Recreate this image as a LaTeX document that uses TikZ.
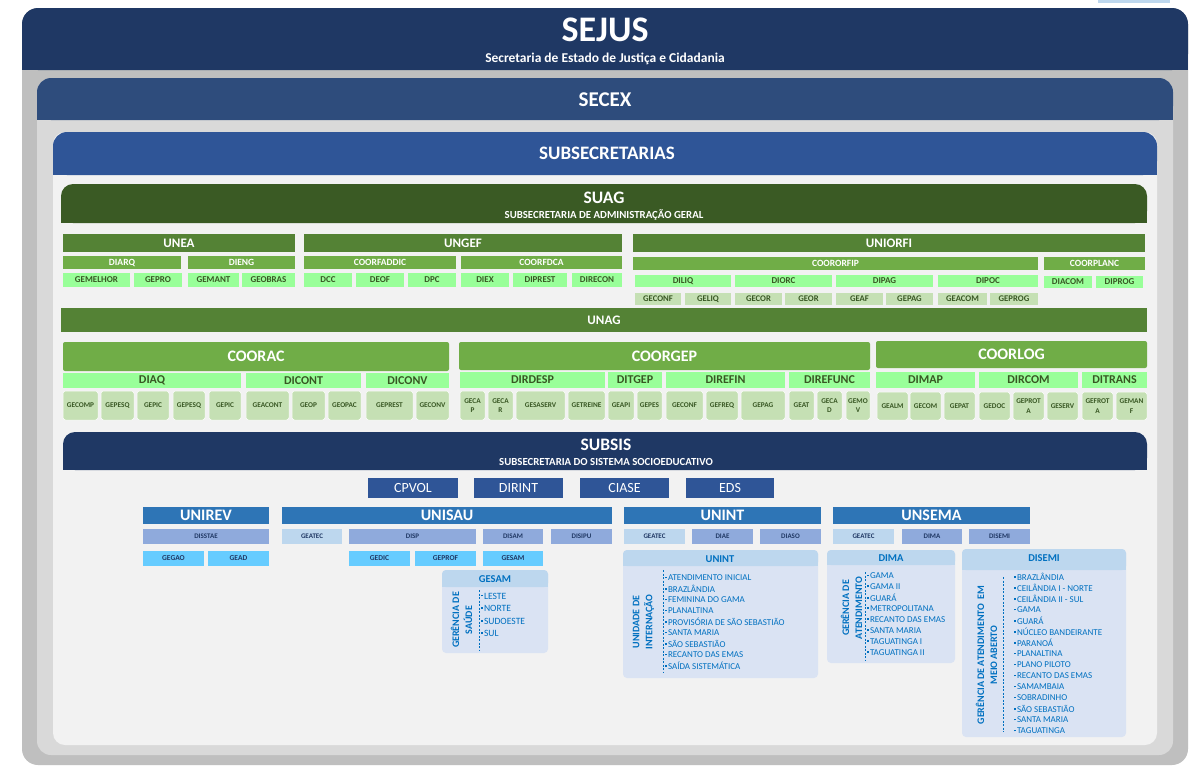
\documentclass[tikz,border=0pt]{standalone}
\usepackage{fontspec}
\setmainfont{Carlito}
\definecolor{colNavy}{HTML}{1F3864}
\definecolor{colSecex}{HTML}{2E4C7C}
\definecolor{colSub}{HTML}{2F5597}
\definecolor{colFA}{HTML}{BFBFBF}
\definecolor{colFB}{HTML}{D9D9D9}
\definecolor{colFC}{HTML}{F2F2F2}
\definecolor{colSuag}{HTML}{3A5A24}
\definecolor{colGA}{HTML}{548235}
\definecolor{colGB}{HTML}{70AD47}
\definecolor{colGC}{HTML}{99FF99}
\definecolor{colGD}{HTML}{C5E0B4}
\definecolor{colGT}{HTML}{385723}
\definecolor{colBA}{HTML}{2F5597}
\definecolor{colBB}{HTML}{2E75B6}
\definecolor{colBC}{HTML}{8FAADC}
\definecolor{colBD}{HTML}{BDD7EE}
\definecolor{colBE}{HTML}{66CCFF}
\definecolor{colBT}{HTML}{203864}
\definecolor{colLH}{HTML}{BDD7EE}
\definecolor{colLB}{HTML}{DAE3F3}
\definecolor{colLT}{HTML}{0070C0}
\newcommand\fz[1]{\fontsize{#1}{#1}\selectfont}
\newcommand\bx[7]{\node[#6, minimum width={#4pt-#2pt}, minimum height={#5pt-#3pt}] (#1) at ({(#2+#4)/2},{(#3+#5)/2}) {#7};}
\newcommand\tophdr[6]{\fill[#5, rounded corners=#6pt] (#1,#2) rectangle (#3,#4); \fill[#5] (#1,{#2+#6+1}) rectangle (#3,#4);}
\newcommand\sqb{\raisebox{0.28em}{\rule{1.8pt}{1.8pt}}\hspace{1pt}}
\tikzset{
 base/.style={inner sep=0pt, outer sep=0pt, align=center},
 stGA/.style={base, fill=colGA, text=white, font=\bfseries\fz{13}},
 stGB/.style={base, fill=colGB, text=white, font=\bfseries\fz{9.5}},
 stGC/.style={base, fill=colGC, text=colGT, font=\bfseries\fz{9}},
 stGD/.style={base, fill=colGD, text=colGT, font=\bfseries\fz{8.7}},
 stCA/.style={base, fill=colGB, text=white, font=\bfseries\fz{16}, rounded corners=2pt},
 stCB/.style={base, fill=colGC, text=colGT, font=\bfseries\fz{12}},
 stCC/.style={base, fill=colGD, text=colGT, font=\bfseries\fontsize{7.3}{9.5}\selectfont, rounded corners=2.5pt, draw=white, line width=0.5pt},
 stSA/.style={base, fill=colBA, text=white, font=\fz{14}},
 stSB/.style={base, fill=colBB, text=white, font=\bfseries\fz{16}},
 stSC/.style={base, fill=colBC, text=colBT, font=\bfseries\fz{7}},
 stSD/.style={base, fill=colBD, text=colBT, font=\bfseries\fz{7}},
 stSE/.style={base, fill=colBE, text=colBT, font=\bfseries\fz{7.5}},
 stLBox/.style={base, fill=colLB, rounded corners=4pt},
 hdr/.style={text=white, inner sep=0pt},
 lhead/.style={text=colLT, font=\bfseries\fz{10.5}, inner sep=0pt},
 litem/.style={text=colLT, font=\fz{9}, inner sep=0pt, anchor=west},
 lrot/.style={text=colLT, font=\bfseries\fontsize{10}{13}\selectfont, rotate=90, align=center, inner sep=0pt},
 ldash/.style={draw=colLT, dash pattern=on 2pt off 1.5pt, line width=0.6pt},
}
\begin{document}
\begin{tikzpicture}[x=1pt,y=-1pt]
\useasboundingbox (0,0) rectangle (1199,777);
\fill[white] (0,0) rectangle (1199,777);
\fill[colBD] (1098,0) rectangle (1170,3);
% frames
\fill[colFA, rounded corners=16pt] (22,8) rectangle (1188,765);
\tophdr{22}{8}{1188}{70}{colNavy}{16}
\fill[colFB, rounded corners=14pt] (37,78) rectangle (1173,755);
\tophdr{37}{78}{1173}{120}{colSecex}{14}
\fill[colFC, rounded corners=12pt] (53,132) rectangle (1157,745);
\tophdr{53}{132}{1157}{175}{colSub}{14}
\tophdr{61}{184}{1147}{223}{colSuag}{12}
\tophdr{63}{432}{1147}{470}{colNavy}{12}
% titles
\node[hdr, font=\bfseries\fz{36}] (sejus) at (605,30) {SEJUS};
\node[hdr, font=\bfseries\fz{13.5}] (sejussub) at (605,59) {Secretaria de Estado de Justiça e Cidadania};
\node[hdr, font=\bfseries\fz{21}] (secex) at (605,100) {SECEX};
\node[hdr, font=\bfseries\fz{19}] (subsec) at (607,153) {SUBSECRETARIAS};
\node[hdr, font=\bfseries\fz{17.5}] (suag) at (604,198) {SUAG};
\node[hdr, font=\bfseries\fz{10.8}] (suagsub) at (604,215) {SUBSECRETARIA DE ADMINISTRAÇÃO GERAL};
\node[hdr, font=\bfseries\fz{17.5}] (subsis) at (606,445) {SUBSIS};
\node[hdr, font=\bfseries\fz{10.8}] (subsissub) at (606,462) {SUBSECRETARIA DO SISTEMA SOCIOEDUCATIVO};
% SUAG rows
\bx{unea}{63}{234}{295}{252}{stGA}{UNEA}
\bx{ungef}{304}{234}{622}{252}{stGA}{UNGEF}
\bx{uniorfi}{633}{234}{1145}{252}{stGA}{UNIORFI}
\bx{diarq}{63}{256}{181}{269}{stGB}{DIARQ}
\bx{dieng}{188}{256}{295}{269}{stGB}{DIENG}
\bx{coorfaddic}{304}{256}{456}{269}{stGB}{COORFADDIC}
\bx{coorfdca}{461}{256}{622}{269}{stGB}{COORFDCA}
\bx{coororfip}{633}{257}{1038}{270}{stGB}{COORORFIP}
\bx{coorplanc}{1044}{257}{1145}{270}{stGB}{COORPLANC}
\bx{gemelhor}{63}{273}{130}{287}{stGC}{GEMELHOR}
\bx{gepro}{134}{273}{182}{287}{stGC}{GEPRO}
\bx{gemant}{188}{273}{239}{287}{stGC}{GEMANT}
\bx{geobras}{242}{273}{295}{287}{stGC}{GEOBRAS}
\bx{dcc}{304}{273}{352}{287}{stGC}{DCC}
\bx{deof}{356}{273}{404}{287}{stGC}{DEOF}
\bx{dpc}{408}{273}{456}{287}{stGC}{DPC}
\bx{diex}{461}{273}{509}{287}{stGC}{DIEX}
\bx{diprest}{513}{273}{567}{287}{stGC}{DIPREST}
\bx{direcon}{572}{273}{622}{287}{stGC}{DIRECON}
\bx{diliq}{635}{275}{731}{287}{stGC}{DILIQ}
\bx{diorc}{735}{275}{832}{287}{stGC}{DIORC}
\bx{dipag}{836}{275}{933}{287}{stGC}{DIPAG}
\bx{dipoc}{938}{275}{1038}{287}{stGC}{DIPOC}
\bx{diacom}{1044}{276}{1092}{288}{stGC}{DIACOM}
\bx{diprog}{1096}{276}{1143}{288}{stGC}{DIPROG}
\bx{geconfa}{635}{293}{681}{305}{stGD}{GECONF}
\bx{geliq}{685}{293}{731}{305}{stGD}{GELIQ}
\bx{gecor}{735}{293}{782}{305}{stGD}{GECOR}
\bx{geor}{785}{293}{832}{305}{stGD}{GEOR}
\bx{geaf}{836}{293}{883}{305}{stGD}{GEAF}
\bx{gepaga}{886}{293}{933}{305}{stGD}{GEPAG}
\bx{geacom}{938}{293}{987}{305}{stGD}{GEACOM}
\bx{geprog}{990}{293}{1038}{305}{stGD}{GEPROG}
\bx{unag}{61}{308}{1147}{332}{stGA}{UNAG}
% COORAC
\bx{coorac}{63}{342}{449}{371}{stCA}{COORAC}
\bx{diaq}{63}{373}{241}{388}{stCB}{DIAQ}
\bx{dicont}{246}{373}{361}{388}{stCB}{DICONT}
\bx{diconv}{366}{373}{449}{388}{stCB}{DICONV}
\bx{gecomp}{63}{391}{98}{420}{stCC}{GECOMP}
\bx{gepesqa}{101}{391}{134}{420}{stCC}{GEPESQ}
\bx{gepica}{137}{391}{169}{420}{stCC}{GEPIC}
\bx{gepesqb}{173}{391}{205}{420}{stCC}{GEPESQ}
\bx{gepicb}{209}{391}{241}{420}{stCC}{GEPIC}
\bx{geacont}{246}{391}{289}{420}{stCC}{GEACONT}
\bx{geop}{292}{391}{325}{420}{stCC}{GEOP}
\bx{geopac}{328}{391}{361}{420}{stCC}{GEOPAC}
\bx{geprest}{366}{391}{413}{420}{stCC}{GEPREST}
\bx{geconv}{416}{391}{449}{420}{stCC}{GECONV}
% COORGEP
\bx{coorgep}{459}{342}{870}{370}{stCA}{COORGEP}
\bx{dirdesp}{460}{372}{605}{388}{stCB}{DIRDESP}
\bx{ditgep}{608}{372}{662}{388}{stCB}{DITGEP}
\bx{direfin}{666}{372}{785}{388}{stCB}{DIREFIN}
\bx{direfunc}{789}{372}{870}{388}{stCB}{DIREFUNC}
\bx{gecap}{460}{391}{485}{420}{stCC}{GECA\\P}
\bx{gecar}{488}{391}{513}{420}{stCC}{GECA\\R}
\bx{gesaserv}{516}{391}{565}{420}{stCC}{GESASERV}
\bx{getreine}{568}{391}{605}{420}{stCC}{GETREINE}
\bx{geapi}{608}{391}{634}{420}{stCC}{GEAPI}
\bx{gepes}{637}{391}{662}{420}{stCC}{GEPES}
\bx{geconfb}{666}{391}{703}{420}{stCC}{GECONF}
\bx{gefreq}{706}{391}{738}{420}{stCC}{GEFREQ}
\bx{gepagb}{741}{391}{785}{420}{stCC}{GEPAG}
\bx{geat}{789}{391}{814}{420}{stCC}{GEAT}
\bx{gecad}{817}{391}{842}{420}{stCC}{GECA\\D}
\bx{gemov}{846}{391}{870}{420}{stCC}{GEMO\\V}
% COORLOG
\bx{coorlog}{876}{341}{1147}{368}{stCA}{COORLOG}
\bx{dimap}{876}{372}{975}{388}{stCB}{DIMAP}
\bx{dircom}{979}{372}{1078}{388}{stCB}{DIRCOM}
\bx{ditrans}{1082}{372}{1147}{388}{stCB}{DITRANS}
\bx{gealm}{877}{392}{908}{420}{stCC}{GEALM}
\bx{gecom}{910}{392}{941}{420}{stCC}{GECOM}
\bx{gepat}{944}{392}{975}{420}{stCC}{GEPAT}
\bx{gedoc}{979}{392}{1010}{420}{stCC}{GEDOC}
\bx{geprota}{1013}{392}{1044}{420}{stCC}{GEPROT\\A}
\bx{geserv}{1047}{392}{1078}{420}{stCC}{GESERV}
\bx{gefrota}{1082}{392}{1113}{420}{stCC}{GEFROT\\A}
\bx{gemanf}{1116}{392}{1147}{420}{stCC}{GEMAN\\F}
% SUBSIS
\bx{cpvol}{368}{478}{458}{498}{stSA}{CPVOL}
\bx{dirint}{474}{478}{563}{498}{stSA}{DIRINT}
\bx{ciase}{580}{478}{669}{498}{stSA}{CIASE}
\bx{eds}{686}{478}{774}{498}{stSA}{EDS}
\bx{unirev}{143}{507}{269}{524}{stSB}{UNIREV}
\bx{unisau}{282}{507}{612}{524}{stSB}{UNISAU}
\bx{unint}{624}{507}{821}{524}{stSB}{UNINT}
\bx{unsema}{833}{507}{1030}{524}{stSB}{UNSEMA}
\bx{disstae}{143}{529}{269}{544}{stSC}{DISSTAE}
\bx{geateca}{282}{529}{342}{544}{stSD}{GEATEC}
\bx{disp}{349}{529}{476}{544}{stSC}{DISP}
\bx{disam}{483}{529}{543}{544}{stSC}{DISAM}
\bx{disipu}{551}{529}{612}{544}{stSC}{DISIPU}
\bx{geatecb}{624}{529}{685}{544}{stSD}{GEATEC}
\bx{diae}{692}{529}{753}{544}{stSC}{DIAE}
\bx{diaso}{760}{529}{821}{544}{stSC}{DIASO}
\bx{geatecc}{833}{529}{894}{544}{stSD}{GEATEC}
\bx{dima}{902}{529}{962}{544}{stSC}{DIMA}
\bx{disemi}{969}{529}{1030}{544}{stSC}{DISEMI}
\bx{gegao}{143}{551}{204}{566}{stSE}{GEGAO}
\bx{gead}{208}{551}{269}{566}{stSE}{GEAD}
\bx{gedic}{349}{551}{410}{566}{stSE}{GEDIC}
\bx{geprof}{415}{551}{476}{566}{stSE}{GEPROF}
\bx{gesam}{483}{551}{543}{566}{stSE}{GESAM}
% list GESAM
\bx{lgesam}{442}{570}{548}{653}{stLBox}{}
\tophdr{442}{570}{548}{587}{colLH}{4}
\node[lhead] (lgesamh) at (495,579) {GESAM};
\node[lrot] (lgesamr) at (461.5,620) {GERÊNCIA DE\\SAÚDE};
\draw[ldash] (479,590) -- (479,650);
\foreach \t [count=\i from 0] in {LESTE,NORTE,SUDOESTE,SUL}
  \node[litem, font=\fz{9.6}] (lgesam\i) at (481,{596+12.6*\i}) {\sqb\t};
% list UNINT
\bx{lunint}{623}{550}{818}{678}{stLBox}{}
\tophdr{623}{550}{818}{566}{colLH}{4}
\node[lhead] (lunintH) at (720,559) {UNINT};
\node[lrot] (lunintr) at (643.5,622) {UNIDADE DE\\INTERNAÇÃO};
\draw[ldash] (663,570) -- (663,672);
\foreach \t [count=\i from 0] in {ATENDIMENTO INICIAL,BRAZLÂNDIA,FEMININA DO GAMA,PLANALTINA,PROVISÓRIA DE SÃO SEBASTIÃO,SANTA MARIA,SÃO SEBASTIÃO,RECANTO DAS EMAS,SAÍDA SISTEMÁTICA}
  \node[litem] (lunint\i) at (665,{578+11*\i}) {\sqb\t};
% list DIMA
\bx{ldima}{827}{550}{955}{663}{stLBox}{}
\tophdr{827}{550}{955}{565}{colLH}{4}
\node[lhead] (ldimaH) at (891,558) {DIMA};
\node[lrot] (ldimar) at (851.5,608) {GERÊNCIA DE\\ATENDIMENTO};
\draw[ldash] (865,572) -- (865,660);
\foreach \t [count=\i from 0] in {GAMA,GAMA II,GUARÁ,METROPOLITANA,RECANTO DAS EMAS,SANTA MARIA,TAGUATINGA I,TAGUATINGA II}
  \node[litem] (ldima\i) at (867,{576+10.9*\i}) {\sqb\t};
% list DISEMI
\bx{ldisemi}{962}{549}{1126}{737}{stLBox}{}
\tophdr{962}{549}{1126}{570}{colLH}{4}
\node[lhead] (ldisemiH) at (1044,558) {DISEMI};
\node[lrot] (ldisemir) at (986.5,655) {GERÊNCIA DE ATENDIMENTO\ \ EM\\MEIO ABERTO};
\draw[ldash] (1003,577) -- (1003,732);
\foreach \t [count=\i from 0] in {BRAZLÂNDIA,CEILÂNDIA I - NORTE,CEILÂNDIA II - SUL,GAMA,GUARÁ,NÚCLEO BANDEIRANTE,PARANOÁ,PLANALTINA,PLANO PILOTO,RECANTO DAS EMAS,SAMAMBAIA,SOBRADINHO,SÃO SEBASTIÃO,SANTA MARIA,TAGUATINGA}
  \node[litem] (ldisemi\i) at (1014,{577+11*\i}) {\sqb\t};
\end{tikzpicture}
\end{document}
